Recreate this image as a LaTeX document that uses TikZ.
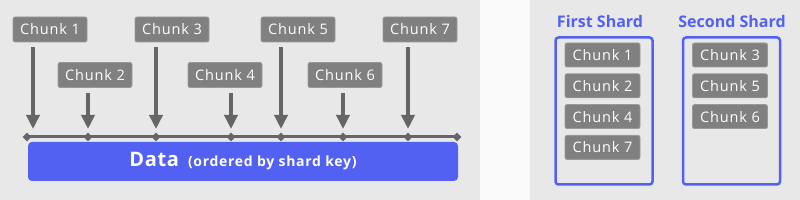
\documentclass[tikz,border=0pt]{standalone}
\usepackage{fontspec}
\setmainfont{Open Sans}
\usetikzlibrary{arrows.meta}
\usetikzlibrary{positioning}
\usetikzlibrary{shapes.geometric}

\definecolor{panelgray}{HTML}{E8E8E8}
\definecolor{gapwhite}{HTML}{F9F9F9}
\definecolor{chunkgray}{HTML}{808080}
\definecolor{chunkedge}{HTML}{9A9A9A}
\definecolor{railgray}{HTML}{666666}
\definecolor{shardblue}{HTML}{5261F2}

\tikzset{
    chunk/.style={fill=chunkgray, draw=chunkedge, line width=0.8pt, rounded corners=2pt,
        text=white, minimum width=74pt, minimum height=25pt, inner sep=0pt,
        font=\fontsize{14.5}{15}\selectfont\addfontfeature{LetterSpace=6}},
    feed/.style={draw=railgray, line width=4pt, -{Triangle[width=13pt,length=14pt]}},
    knot/.style={diamond, fill=railgray, inner sep=0pt, minimum size=9pt},
    shard/.style={draw=shardblue, line width=2.5pt, rounded corners=3pt,
        minimum width=97pt, minimum height=147pt},
    shardtitle/.style={text=shardblue, font=\fontsize{16}{16}\selectfont\bfseries}
}

\begin{document}
\begin{tikzpicture}[x=1pt,y=-1pt]
        \useasboundingbox (0,0) rectangle (800,200);
        \fill[panelgray] (0,0) rectangle (480,200);
        \fill[gapwhite] (480,0) rectangle (530,200);
        \fill[panelgray] (530,0) rectangle (800,200);

        % chunks along the key range
        \node[chunk] (c1) at (50,29.5) {Chunk 1};
        \node[chunk] (c2) at (95,75) {Chunk 2};
        \node[chunk] (c3) at (172,29.5) {Chunk 3};
        \node[chunk] (c4) at (225,75) {Chunk 4};
        \node[chunk] (c5) at (298,29.5) {Chunk 5};
        \node[chunk] (c6) at (345,75) {Chunk 6};
        \node[chunk] (c7) at (420,29.5) {Chunk 7};

        \coordinate (l0) at (27,137);
        \coordinate (l8) at (457,137);
        \draw[railgray, line width=3pt] (l0) -- (l8);
        \foreach \k/\x in {1/33,2/88,3/156,4/231,5/281,6/343,7/408}{
            \coordinate (t\k) at (\x,129);
            \draw[feed] ([yshift=-5pt]c\k.south -| t\k) -- (t\k);
        }
        \foreach \x in {27,88,156,231,281,343,408,457}
            \node[knot] at (\x,137) {};

        \node[fill=shardblue, rounded corners=4pt, minimum width=430pt, minimum height=39pt,
            inner sep=0pt, text=white, font=\bfseries] (data) at (243,161.5)
            {\fontsize{20}{20}\selectfont\addfontfeature{LetterSpace=3}Data\, \fontsize{14}{14}\selectfont\addfontfeature{LetterSpace=5}(ordered by shard key)};

        % shards
        \node[shard] (s1) at (604,111) {};
        \node[shardtitle] (s1t) at (600,22) {First Shard};
        \node[chunk, minimum width=75pt, minimum height=24pt] (f1) at (602.5,55) {Chunk 1};
        \node[chunk, minimum width=75pt, minimum height=24pt, below=6pt of f1] (f2) {Chunk 2};
        \node[chunk, minimum width=75pt, minimum height=24pt, below=6pt of f2] (f3) {Chunk 4};
        \node[chunk, minimum width=75pt, minimum height=24pt, below=6pt of f3] (f4) {Chunk 7};

        \node[shard] (s2) at (731.5,111) {};
        \node[shardtitle] (s2t) at (732,22) {Second Shard};
        \node[chunk, minimum width=75pt, minimum height=24pt] (g1) at (730,55) {Chunk 3};
        \node[chunk, minimum width=75pt, minimum height=24pt, below=6pt of g1] (g2) {Chunk 5};
        \node[chunk, minimum width=75pt, minimum height=24pt, below=6pt of g2] (g3) {Chunk 6};
    \end{tikzpicture}
\end{document}
